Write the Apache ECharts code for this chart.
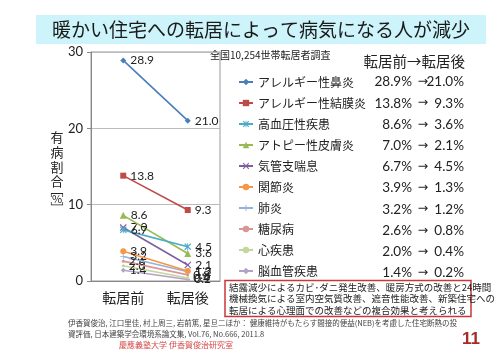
<!DOCTYPE html>
<html><head><meta charset="utf-8">
<script src="https://cdn.jsdelivr.net/npm/echarts@6/dist/echarts.min.js"></script>
<style>html,body{margin:0;padding:0;background:#fff}#c{width:500px;height:360px}</style>
</head><body><div id="c"></div>
<script>
const categories = ['転居前', '転居後'];
const seriesNames = ['アレルギー性鼻炎','アレルギー性結膜炎','高血圧性疾患','アトピー性皮膚炎','気管支喘息','関節炎','肺炎','糖尿病','心疾患','脳血管疾患'];
const beforeValues = [28.9, 13.8, 6.7, 8.6, 7.0, 3.9, 3.2, 2.6, 2.0, 1.4];
const afterValues  = [21.0, 9.3, 4.5, 3.6, 2.1, 1.3, 1.2, 0.8, 0.4, 0.2];
const tableBefore = ['28.9','13.8','8.6','7.0','6.7','3.9','3.2','2.6','2.0','1.4'];
const tableAfter  = ['21.0','9.3','3.6','2.1','4.5','1.3','1.2','0.8','0.4','0.2'];
const yTicks = [0, 10, 20, 30];
const yNameChars = ['有','病','割','合','﹇','%','﹈'];

const colors = ['#4A7EBB','#BE4B48','#4BACC6','#98B954','#7D60A0','#F79646','#95B3D7','#D99694','#C3D69B','#B3A2C7'];
const X = 'path://M0,1.2 L1.2,0 L5,3.8 L8.8,0 L10,1.2 L6.2,5 L10,8.8 L8.8,10 L5,6.2 L1.2,10 L0,8.8 L3.8,5 Z';
const STAR = 'path://M0,1.2 L1.2,0 L5,3.8 L8.8,0 L10,1.2 L6.2,5 L10,8.8 L8.8,10 L5,6.2 L1.2,10 L0,8.8 L3.8,5 Z M4.4,0 H5.6 V10 H4.4 Z';
const PLUS = 'path://M4.3,0 H5.7 V4.3 H10 V5.7 H5.7 V10 H4.3 V5.7 H0 V4.3 H4.3 Z';
const symbols = ['diamond','rect',STAR,'triangle',X,'circle',PLUS,'none','none','diamond'];
const symbolSizes = [6, 6, 7, 7, 7, 6, 6, 3, 3, 5];

const FJ = '"Noto Sans CJK JP", sans-serif';
const chart = echarts.init(document.getElementById('c'), null, {renderer: 'canvas'});

const series = seriesNames.map((n, i) => ({
  name: n, type: 'line', data: [beforeValues[i], afterValues[i]],
  symbol: symbols[i] === 'none' ? 'circle' : symbols[i],
  symbolSize: symbolSizes[i],
  showSymbol: true,
  lineStyle: {color: colors[i], width: 1.6},
  itemStyle: {color: colors[i]},
  label: {show: true, position: 'right', distance: 4, color: '#222', fontSize: 12,
    fontFamily: 'Lato, "Noto Sans", sans-serif', formatter: p => p.value.toFixed(1)},
  emphasis: {disabled: true}, animation: false, z: 10 - i
}));

const graphics = [
  {type: 'rect', shape: {x: 36, y: 15, width: 450, height: 29}, style: {fill: '#CCF4FA'}},
  {type: 'text', x: 261, y: 30, style: {text: '暖かい住宅への転居によって病気になる人が減少', fill: '#1a1a1a', font: '19px ' + FJ, align: 'center', verticalAlign: 'middle'}},
  {type: 'text', x: 210, y: 55, style: {text: '全国10,254世帯転居者調査', fill: '#222', font: '10px ' + FJ, align: 'left', verticalAlign: 'middle'}},
  {type: 'text', x: 465, y: 61, style: {text: '転居前→転居後', fill: '#222', font: '14.5px ' + FJ, align: 'right', verticalAlign: 'middle'}},
  {type: 'rect', shape: {x: 225, y: 280.5, width: 246, height: 36}, style: {fill: 'none', stroke: '#C8383A', lineWidth: 1.5}},
  {type: 'text', x: 229, y: 298.5, style: {text: '結露減少によるカビ･ダニ発生改善、暖房方式の改善と24時間\n機械換気による室内空気質改善、遮音性能改善、新築住宅への\n転居による心理面での改善などの複合効果と考えられる', fill: '#222', font: '9.5px ' + FJ, align: 'left', verticalAlign: 'middle', lineHeight: 11.5}},
  {type: 'text', x: 68, y: 329, style: {text: '伊香賀俊治, 江口里佳, 村上周三, 岩前篤, 星旦二ほか： 健康維持がもたらす間接的便益(NEB)を考慮した住宅断熱の投\n資評価, 日本建築学会環境系論文集, Vol.76, No.666, 2011.8', fill: '#444', font: '7.5px ' + FJ, align: 'left', verticalAlign: 'middle', lineHeight: 11}},
  {type: 'text', x: 176, y: 345, style: {text: '慶應義塾大学 伊香賀俊治研究室', fill: '#D44A4A', font: '8px ' + FJ, align: 'center', verticalAlign: 'middle'}},
  {type: 'text', x: 471, y: 339, style: {text: '11', fill: '#A52A2A', font: 'bold 17px "Liberation Sans", sans-serif', align: 'center', verticalAlign: 'middle'}}
];
const yNameY = [137, 152, 167, 181, 190, 199, 208];
yNameChars.forEach((ch, i) => {
  graphics.push({type: 'text', x: 57, y: yNameY[i], style: {text: ch, fill: '#222', font: (i === 5 ? '11px ' : '13px ') + FJ, align: 'center', verticalAlign: 'middle'}});
});
const rowY0 = 82, rowStep = 21.2;
tableBefore.forEach((b, i) => {
  const y = rowY0 + i * rowStep;
  graphics.push({type: 'text', x: 412, y: y, style: {text: b + '%', fill: '#222', font: '13.5px Lato, sans-serif', align: 'right', verticalAlign: 'middle'}});
  graphics.push({type: 'text', x: 423, y: y, style: {text: '→', fill: '#222', font: '12.5px "DejaVu Sans", sans-serif', align: 'center', verticalAlign: 'middle'}});
  graphics.push({type: 'text', x: 464, y: y, style: {text: tableAfter[i] + '%', fill: '#222', font: '13.5px Lato, sans-serif', align: 'right', verticalAlign: 'middle'}});
});

chart.setOption({
  animation: false,
  grid: {left: 91, top: 52, width: 129, height: 229, show: true, borderColor: '#999', borderWidth: 1},
  xAxis: {type: 'category', data: categories, boundaryGap: true,
    axisLine: {lineStyle: {color: '#888'}}, axisTick: {show: false},
    axisLabel: {color: '#222', fontSize: 14, fontFamily: FJ, margin: 10}},
  yAxis: {type: 'value', min: yTicks[0], max: yTicks[yTicks.length - 1], interval: 10,
    axisLine: {show: true, lineStyle: {color: '#888'}},
    axisTick: {show: true, inside: false, length: 4, lineStyle: {color: '#888'}},
    splitLine: {lineStyle: {color: '#BBB'}},
    axisLabel: {color: '#222', fontSize: 13, fontFamily: 'Lato, sans-serif', margin: 8}},
  legend: {orient: 'vertical', left: 238, top: 75, padding: 0, itemWidth: 14, itemHeight: 8, itemGap: 7,
    textStyle: {fontSize: 12, lineHeight: 14, fontFamily: FJ, color: '#222'},
    data: seriesNames.map(n => ({name: n}))},
  series: series,
  graphic: graphics
});
</script></body></html>
